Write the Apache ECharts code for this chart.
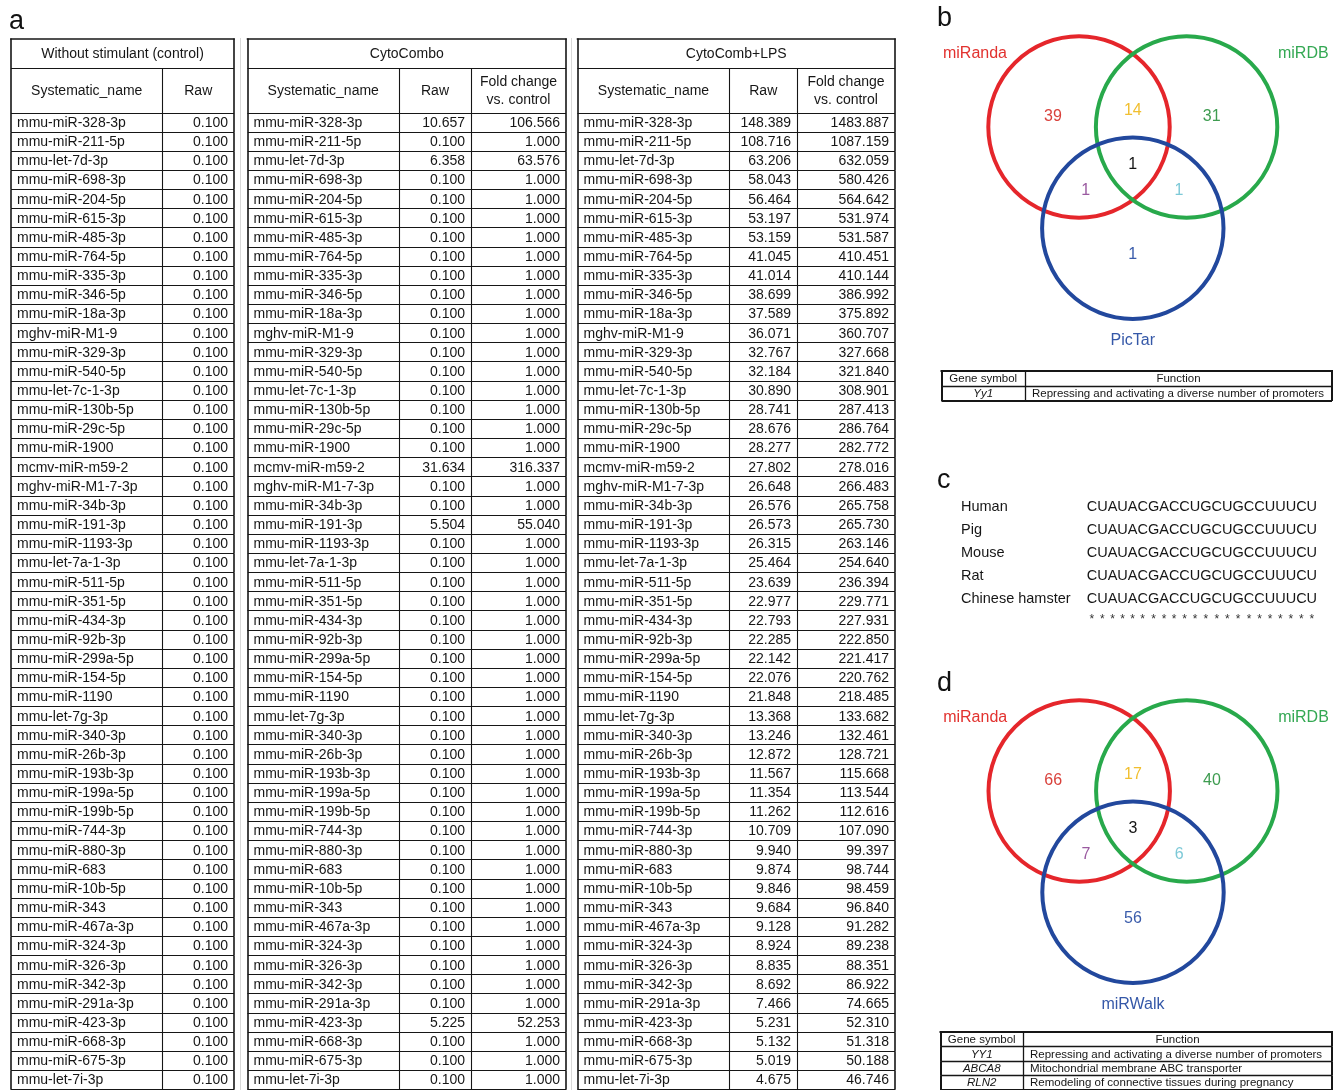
<!DOCTYPE html>
<html>
<head>
<meta charset="utf-8">
<script src="https://cdn.jsdelivr.net/npm/echarts@6/dist/echarts.min.js"></script>
<style>
  html, body { margin: 0; padding: 0; background: #ffffff; }
  #chart { width: 1333px; height: 1090px; }
</style>
</head>
<body>
<div id="chart"></div>
<script>
// ---------------- data ----------------
const mirnaNames = [
  'mmu-miR-328-3p', 'mmu-miR-211-5p', 'mmu-let-7d-3p', 'mmu-miR-698-3p', 'mmu-miR-204-5p',
  'mmu-miR-615-3p', 'mmu-miR-485-3p', 'mmu-miR-764-5p', 'mmu-miR-335-3p', 'mmu-miR-346-5p',
  'mmu-miR-18a-3p', 'mghv-miR-M1-9', 'mmu-miR-329-3p', 'mmu-miR-540-5p', 'mmu-let-7c-1-3p',
  'mmu-miR-130b-5p', 'mmu-miR-29c-5p', 'mmu-miR-1900', 'mcmv-miR-m59-2', 'mghv-miR-M1-7-3p',
  'mmu-miR-34b-3p', 'mmu-miR-191-3p', 'mmu-miR-1193-3p', 'mmu-let-7a-1-3p', 'mmu-miR-511-5p',
  'mmu-miR-351-5p', 'mmu-miR-434-3p', 'mmu-miR-92b-3p', 'mmu-miR-299a-5p', 'mmu-miR-154-5p',
  'mmu-miR-1190', 'mmu-let-7g-3p', 'mmu-miR-340-3p', 'mmu-miR-26b-3p', 'mmu-miR-193b-3p',
  'mmu-miR-199a-5p', 'mmu-miR-199b-5p', 'mmu-miR-744-3p', 'mmu-miR-880-3p', 'mmu-miR-683',
  'mmu-miR-10b-5p', 'mmu-miR-343', 'mmu-miR-467a-3p', 'mmu-miR-324-3p', 'mmu-miR-326-3p',
  'mmu-miR-342-3p', 'mmu-miR-291a-3p', 'mmu-miR-423-3p', 'mmu-miR-668-3p', 'mmu-miR-675-3p',
  'mmu-let-7i-3p'
];

const controlRaw = [
  0.100, 0.100, 0.100, 0.100, 0.100, 0.100, 0.100, 0.100, 0.100, 0.100,
  0.100, 0.100, 0.100, 0.100, 0.100, 0.100, 0.100, 0.100, 0.100, 0.100,
  0.100, 0.100, 0.100, 0.100, 0.100, 0.100, 0.100, 0.100, 0.100, 0.100,
  0.100, 0.100, 0.100, 0.100, 0.100, 0.100, 0.100, 0.100, 0.100, 0.100,
  0.100, 0.100, 0.100, 0.100, 0.100, 0.100, 0.100, 0.100, 0.100, 0.100,
  0.100
];

const comboRaw = [
  10.657, 0.100, 6.358, 0.100, 0.100, 0.100, 0.100, 0.100, 0.100, 0.100,
  0.100, 0.100, 0.100, 0.100, 0.100, 0.100, 0.100, 0.100, 31.634, 0.100,
  0.100, 5.504, 0.100, 0.100, 0.100, 0.100, 0.100, 0.100, 0.100, 0.100,
  0.100, 0.100, 0.100, 0.100, 0.100, 0.100, 0.100, 0.100, 0.100, 0.100,
  0.100, 0.100, 0.100, 0.100, 0.100, 0.100, 0.100, 5.225, 0.100, 0.100,
  0.100
];

const comboFold = [
  106.566, 1.000, 63.576, 1.000, 1.000, 1.000, 1.000, 1.000, 1.000, 1.000,
  1.000, 1.000, 1.000, 1.000, 1.000, 1.000, 1.000, 1.000, 316.337, 1.000,
  1.000, 55.040, 1.000, 1.000, 1.000, 1.000, 1.000, 1.000, 1.000, 1.000,
  1.000, 1.000, 1.000, 1.000, 1.000, 1.000, 1.000, 1.000, 1.000, 1.000,
  1.000, 1.000, 1.000, 1.000, 1.000, 1.000, 1.000, 52.253, 1.000, 1.000,
  1.000
];

const lpsRaw = [
  148.389, 108.716, 63.206, 58.043, 56.464, 53.197, 53.159, 41.045, 41.014, 38.699,
  37.589, 36.071, 32.767, 32.184, 30.890, 28.741, 28.676, 28.277, 27.802, 26.648,
  26.576, 26.573, 26.315, 25.464, 23.639, 22.977, 22.793, 22.285, 22.142, 22.076,
  21.848, 13.368, 13.246, 12.872, 11.567, 11.354, 11.262, 10.709, 9.940, 9.874,
  9.846, 9.684, 9.128, 8.924, 8.835, 8.692, 7.466, 5.231, 5.132, 5.019,
  4.675
];

const lpsFold = [
  1483.887, 1087.159, 632.059, 580.426, 564.642, 531.974, 531.587, 410.451, 410.144, 386.992,
  375.892, 360.707, 327.668, 321.840, 308.901, 287.413, 286.764, 282.772, 278.016, 266.483,
  265.758, 265.730, 263.146, 254.640, 236.394, 229.771, 227.931, 222.850, 221.417, 220.762,
  218.485, 133.682, 132.461, 128.721, 115.668, 113.544, 112.616, 107.090, 99.397, 98.744,
  98.459, 96.840, 91.282, 89.238, 88.351, 86.922, 74.665, 52.310, 51.318, 50.188,
  46.746
];

// Venn regions: [A only, A∩B, B only, A∩B∩C, A∩C, B∩C, C only]
const vennSetsB = ['miRanda', 'miRDB', 'PicTar'];
const vennCountsB = [39, 14, 31, 1, 1, 1, 1];
const vennSetsD = ['miRanda', 'miRDB', 'miRWalk'];
const vennCountsD = [66, 17, 40, 3, 7, 6, 56];

const geneSymbolsB = ['Yy1'];
const geneFunctionsB = ['Repressing and activating a diverse number of promoters'];
const geneSymbolsD = ['YY1', 'ABCA8', 'RLN2'];
const geneFunctionsD = [
  'Repressing and activating a diverse number of promoters',
  'Mitochondrial membrane ABC transporter',
  'Remodeling of connective tissues during pregnancy'
];

const species = ['Human', 'Pig', 'Mouse', 'Rat', 'Chinese hamster'];
const sequences = [
  'CUAUACGACCUGCUGCCUUUCU',
  'CUAUACGACCUGCUGCCUUUCU',
  'CUAUACGACCUGCUGCCUUUCU',
  'CUAUACGACCUGCUGCCUUUCU',
  'CUAUACGACCUGCUGCCUUUCU'
];
const conservation = '**********************';

// ---------------- styling / layout ----------------
const FONT = '"Liberation Sans", Arial, Helvetica, sans-serif';
const INK = '#161616';
const ROW_H = 19.15;
const N_ROWS = mirnaNames.length;
const BODY_TOP = 113;

function crisp(v, w) { return (Math.round(w) % 2 === 1) ? Math.floor(v) + 0.5 : Math.round(v); }
function hLine(x1, x2, y, w, color) {
  const yy = crisp(y, w);
  return { type: 'line', silent: true, shape: { x1: x1, y1: yy, x2: x2, y2: yy },
           style: { stroke: color || INK, lineWidth: w } };
}
function vLine(x, y1, y2, w, color) {
  const xx = crisp(x, w);
  return { type: 'line', silent: true, shape: { x1: xx, y1: y1, x2: xx, y2: y2 },
           style: { stroke: color || INK, lineWidth: w } };
}
function txt(text, x, y, align, size, opts) {
  opts = opts || {};
  return { type: 'text', silent: true,
    style: { text: text, x: x, y: y, textAlign: align, textVerticalAlign: 'middle',
             font: (opts.style || 'normal') + ' ' + size + 'px ' + FONT,
             fill: opts.fill || INK, lineHeight: opts.lineHeight } };
}

// ---------------- panel a: expression tables ----------------
const tableDefs = [
  { left: 11, edges: [0, 151.5, 223], title: 'Without stimulant (control)',
    heads: ['Systematic_name', 'Raw'], cols: [controlRaw] },
  { left: 247.5, edges: [0, 151.5, 223.5, 318.5], title: 'CytoCombo',
    heads: ['Systematic_name', 'Raw', 'Fold change\nvs. control'], cols: [comboRaw, comboFold] },
  { left: 577.5, edges: [0, 152, 219.5, 317.5], title: 'CytoComb+LPS',
    heads: ['Systematic_name', 'Raw', 'Fold change\nvs. control'], cols: [lpsRaw, lpsFold] }
];
const TITLE_H = 30;
const HEAD_H = 44.5;

const grids = [], xAxes = [], yAxes = [], series = [];
function addGrid(g, xr, yr, yInverse) {
  const idx = grids.length;
  grids.push(Object.assign({ containLabel: false, show: false }, g));
  xAxes.push({ type: 'value', gridIndex: idx, min: xr[0], max: xr[1], show: false });
  yAxes.push({ type: 'value', gridIndex: idx, min: yr[0], max: yr[1], inverse: !!yInverse, show: false });
  return idx;
}

tableDefs.forEach(function (t) {
  const width = t.edges[t.edges.length - 1];
  const gi = addGrid({ left: t.left, top: BODY_TOP, width: width, height: N_ROWS * ROW_H },
                     [0, width], [0, N_ROWS], true);
  const last = t.edges.length - 1;

  // header block
  series.push({
    type: 'custom', xAxisIndex: gi, yAxisIndex: gi, silent: true, animation: false,
    data: [[0, 0]],
    renderItem: function (params, api) {
      const yb = api.coord([0, 0])[1];
      const ys = yb - HEAD_H, yt = ys - TITLE_H;
      const xs = t.edges.map(function (e) { return api.coord([e, 0])[0]; });
      const ch = [];
      ch.push(hLine(xs[0] - 0.8, xs[last] + 0.8, yt, 1.6));
      ch.push(hLine(xs[0], xs[last], ys, 1.1));
      ch.push(hLine(xs[0], xs[last], yb, 1.1));
      ch.push(vLine(xs[0], yt, yb, 1.6));
      ch.push(vLine(xs[last], yt, yb, 1.6));
      for (let k = 1; k < last; k++) ch.push(vLine(xs[k], ys, yb, 1.1));
      ch.push(txt(t.title, (xs[0] + xs[last]) / 2, (yt + ys) / 2 + 0.5, 'center', 14));
      t.heads.forEach(function (h, k) {
        ch.push(txt(h, (xs[k] + xs[k + 1]) / 2, (ys + yb) / 2 + 0.5, 'center', 14, { lineHeight: 18 }));
      });
      return { type: 'group', children: ch };
    }
  });

  // body rows
  series.push({
    type: 'custom', xAxisIndex: gi, yAxisIndex: gi, silent: true, animation: false,
    encode: { x: 1, y: 0 },
    data: mirnaNames.map(function (n, i) { return [i].concat(t.cols.map(function (c) { return c[i]; })); }),
    renderItem: function (params, api) {
      const i = api.value(0);
      const y0 = api.coord([0, i])[1], y1 = api.coord([0, i + 1])[1];
      const ym = (y0 + y1) / 2 + 0.5;
      const xs = t.edges.map(function (e) { return api.coord([e, i])[0]; });
      const ch = [];
      xs.forEach(function (x, k) {
        ch.push(vLine(x, y0, y1, (k === 0 || k === last) ? 1.6 : 1.1));
      });
      ch.push(hLine(xs[0], xs[last], y1, 1.1));
      ch.push(txt(mirnaNames[i], xs[0] + 6, ym, 'left', 14));
      for (let c = 0; c < t.cols.length; c++) {
        ch.push(txt(api.value(c + 1).toFixed(3), xs[c + 2] - 6, ym, 'right', 14));
      }
      return { type: 'group', children: ch };
    }
  });
});

// ---------------- panels b & d: Venn diagrams ----------------
const VENN_R = 90.7;
const vennCenters = [[-0.593, 0], [0.593, 0], [0, 1.116]];
const regionAnchors = [[-0.88, -0.12], [0, -0.18], [0.87, -0.12], [0, 0.41], [-0.52, 0.70], [0.51, 0.70], [0, 1.41]];
const setLabelAnchors = [[-1.74, -0.81], [1.88, -0.81], [0, 2.36]];
const circleColors = ['#e5262b', '#28a94b', '#22489d'];
const setLabelColors = ['#e2322f', '#34a853', '#3558a8'];
const regionColors = ['#d9413b', '#f1bf30', '#3e9c50', '#141414', '#9a5aa0', '#7dc9d7', '#3a5cab'];

function addVenn(cx, cy0, sets, counts) {
  const gi = addGrid({ left: cx - 2 * VENN_R, top: cy0 - 1.4 * VENN_R, width: 4 * VENN_R, height: 4 * VENN_R },
                     [-2, 2], [-1.4, 2.6], true);
  series.push({
    type: 'custom', xAxisIndex: gi, yAxisIndex: gi, silent: true, animation: false,
    data: sets.map(function (s, k) { return [vennCenters[k][0], vennCenters[k][1], k]; }),
    renderItem: function (params, api) {
      const k = api.value(2);
      const c = api.coord([api.value(0), api.value(1)]);
      const r = api.size([1, 1])[0];
      const lp = api.coord(setLabelAnchors[k]);
      return { type: 'group', children: [
        { type: 'circle', shape: { cx: c[0], cy: c[1], r: r },
          style: { fill: 'none', stroke: circleColors[k], lineWidth: 4 } },
        txt(sets[k], lp[0], lp[1], 'center', 16, { fill: setLabelColors[k] })
      ] };
    }
  });
  series.push({
    type: 'custom', xAxisIndex: gi, yAxisIndex: gi, silent: true, animation: false,
    z: 3,
    data: counts.map(function (v, k) { return [regionAnchors[k][0], regionAnchors[k][1], v, k]; }),
    renderItem: function (params, api) {
      const p = api.coord([api.value(0), api.value(1)]);
      return txt(String(api.value(2)), p[0], p[1], 'center', 16, { fill: regionColors[api.value(3)] });
    }
  });
}
addVenn(1132.8, 127, vennSetsB, vennCountsB);
addVenn(1133, 791, vennSetsD, vennCountsD);

// ---------------- gene function tables ----------------
function addGeneTable(left, top, rowH, right, divider, symbols, functions) {
  const rows = [['Gene symbol', 'Function']].concat(symbols.map(function (s, k) { return [s, functions[k]]; }));
  const width = right - left;
  const edges = [0, divider - left, width];
  const gi = addGrid({ left: left, top: top, width: width, height: rows.length * rowH },
                     [0, width], [0, rows.length], true);
  series.push({
    type: 'custom', xAxisIndex: gi, yAxisIndex: gi, silent: true, animation: false,
    data: rows.map(function (r, i) { return [i, i]; }),
    renderItem: function (params, api) {
      const i = api.value(0);
      const y0 = api.coord([0, i])[1], y1 = api.coord([0, i + 1])[1];
      const ym = (y0 + y1) / 2 + 0.5;
      const xs = edges.map(function (e) { return api.coord([e, i])[0]; });
      const ch = [];
      if (i === 0) ch.push(hLine(xs[0] - 1, xs[2] + 1, y0, 2));
      ch.push(hLine(xs[0], xs[2], y1, i === rows.length - 1 ? 2 : 1.3));
      ch.push(vLine(xs[0], y0, y1, 2));
      ch.push(vLine(xs[1], y0, y1, 1.3));
      ch.push(vLine(xs[2], y0, y1, 2));
      const r = rows[i];
      if (i === 0) {
        ch.push(txt(r[0], (xs[0] + xs[1]) / 2, ym, 'center', 11.5));
        ch.push(txt(r[1], (xs[1] + xs[2]) / 2, ym, 'center', 11.5));
      } else {
        ch.push(txt(r[0], (xs[0] + xs[1]) / 2, ym, 'center', 11.5, { style: 'italic' }));
        ch.push(txt(r[1], xs[1] + 7, ym, 'left', 11.5));
      }
      return { type: 'group', children: ch };
    }
  });
}
addGeneTable(941.5, 371, 15, 1332, 1025, geneSymbolsB, geneFunctionsB);
addGeneTable(940.5, 1032.3, 14.7, 1332, 1023, geneSymbolsD, geneFunctionsD);

// ---------------- panel c: sequence alignment ----------------
const SEQ_ROW = 22.9;
const SEQ_X = 125.7;
const SEQ_FONT = 14.5;
(function () {
  const gi = addGrid({ left: 961, top: 507 - SEQ_ROW / 2, width: 372, height: 6 * SEQ_ROW },
                     [0, 372], [0, 6], true);
  series.push({
    type: 'custom', xAxisIndex: gi, yAxisIndex: gi, silent: true, animation: false,
    data: species.map(function (s, i) { return [i, i]; }),
    renderItem: function (params, api) {
      const i = api.value(0);
      const a = api.coord([0, i + 0.5]);
      const b = api.coord([SEQ_X, i + 0.5]);
      return { type: 'group', children: [
        txt(species[i], a[0], a[1], 'left', SEQ_FONT),
        txt(sequences[i], b[0], b[1], 'left', SEQ_FONT)
      ] };
    }
  });
  // conservation stars centred under each residue
  const ctx = document.createElement('canvas').getContext('2d');
  ctx.font = SEQ_FONT + 'px ' + FONT;
  const ref = sequences[0];
  series.push({
    type: 'custom', xAxisIndex: gi, yAxisIndex: gi, silent: true, animation: false,
    data: [[5, 5]],
    renderItem: function (params, api) {
      const p = api.coord([SEQ_X, 5.5]);
      const ch = [];
      for (let k = 0; k < conservation.length; k++) {
        const off = ctx.measureText(ref.slice(0, k)).width + ctx.measureText(ref[k]).width / 2;
        ch.push(txt(conservation[k], p[0] + off, p[1] - 2, 'center', 12, { fill: '#333' }));
      }
      return { type: 'group', children: ch };
    }
  });
})();

// ---------------- assemble ----------------
const chart = echarts.init(document.getElementById('chart'), null, { renderer: 'canvas' });
chart.setOption({
  backgroundColor: '#ffffff',
  animation: false,
  grid: grids,
  xAxis: xAxes,
  yAxis: yAxes,
  series: series,
  graphic: [
    { type: 'line', silent: true, shape: { x1: 240.5, y1: 38, x2: 240.5, y2: 1090 }, style: { stroke: '#d9d9d9', lineWidth: 1 } },
    { type: 'line', silent: true, shape: { x1: 571.5, y1: 38, x2: 571.5, y2: 1090 }, style: { stroke: '#d9d9d9', lineWidth: 1 } },
    { type: 'text', left: 9, top: 8, style: { text: 'a', font: '27px ' + FONT, fill: '#111' } },
    { type: 'text', left: 937, top: 5, style: { text: 'b', font: '27px ' + FONT, fill: '#111' } },
    { type: 'text', left: 937, top: 467, style: { text: 'c', font: '27px ' + FONT, fill: '#111' } },
    { type: 'text', left: 937, top: 670, style: { text: 'd', font: '27px ' + FONT, fill: '#111' } }
  ]
});
</script>
</body>
</html>
